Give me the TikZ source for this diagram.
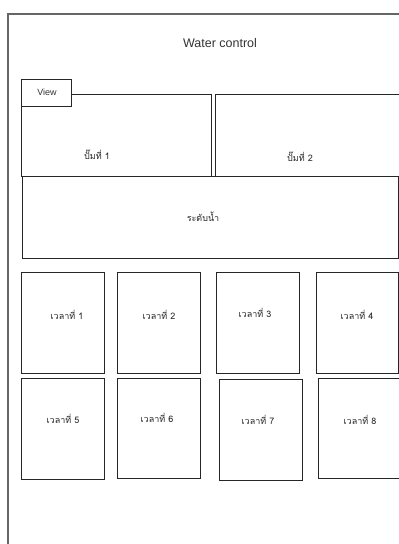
\documentclass[tikz,border=0pt]{standalone}
\usepackage{fontspec}
\setmainfont{Liberation Sans}
\newfontfamily\thaifont[Script=Thai]{Loma}
\begin{document}
\begin{tikzpicture}[x=1pt,y=-1pt,
  frame/.style={draw=black!60,line width=1.3pt},
  box/.style={draw=black!85,line width=1pt,fill=white},
  lbl/.style={inner sep=0pt,font=\thaifont\fontsize{9}{10}\selectfont,text=black!85},
]
\useasboundingbox (0,0) rectangle (399,544);
\fill[white] (0,0) rectangle (399,544);
\begin{scope}
\clip (0,0) rectangle (399,544);
\draw[frame] (8,14) rectangle (420,570);
\node[inner sep=0pt,font=\fontsize{12.5}{14}\selectfont,text=black!80] (title) at (220,43) {Water control};
% pumps
\draw[box] (21,94) rectangle (211,176);
\draw[box] (215,94) rectangle (420,176);
\draw[box] (21,79) rectangle (71,106);
\node[inner sep=0pt,font=\fontsize{9}{10}\selectfont,text=black!80] (view) at (47,92) {View};
\node[lbl] (pumpA) at (97,155) {ปั๊มที่ 1};
\node[lbl] (pumpB) at (300,157) {ปั๊มที่ 2};
% water level
\draw[box] (22,176) rectangle (398,258);
\node[lbl] (level) at (203,217) {ระดับน้ำ};
% time boxes row 1
\draw[box] (21,272) rectangle (104,373);
\draw[box] (117,272) rectangle (200,373);
\draw[box] (216,272) rectangle (299,373);
\draw[box] (316,272) rectangle (398,373);
\node[lbl] (t1) at (67,315) {เวลาที่ 1};
\node[lbl] (t2) at (159,315) {เวลาที่ 2};
\node[lbl] (t3) at (255,313) {เวลาที่ 3};
\node[lbl] (t4) at (357,315) {เวลาที่ 4};
% row 2
\draw[box] (21,378) rectangle (104,479);
\draw[box] (117,378) rectangle (200,478);
\draw[box] (219,379) rectangle (302,480);
\draw[box] (318,378) rectangle (400,478);
\node[lbl] (t5) at (63,419) {เวลาที่ 5};
\node[lbl] (t6) at (157,418) {เวลาที่ 6};
\node[lbl] (t7) at (258,420) {เวลาที่ 7};
\node[lbl] (t8) at (360,420) {เวลาที่ 8};
\end{scope}
\end{tikzpicture}
\end{document}
